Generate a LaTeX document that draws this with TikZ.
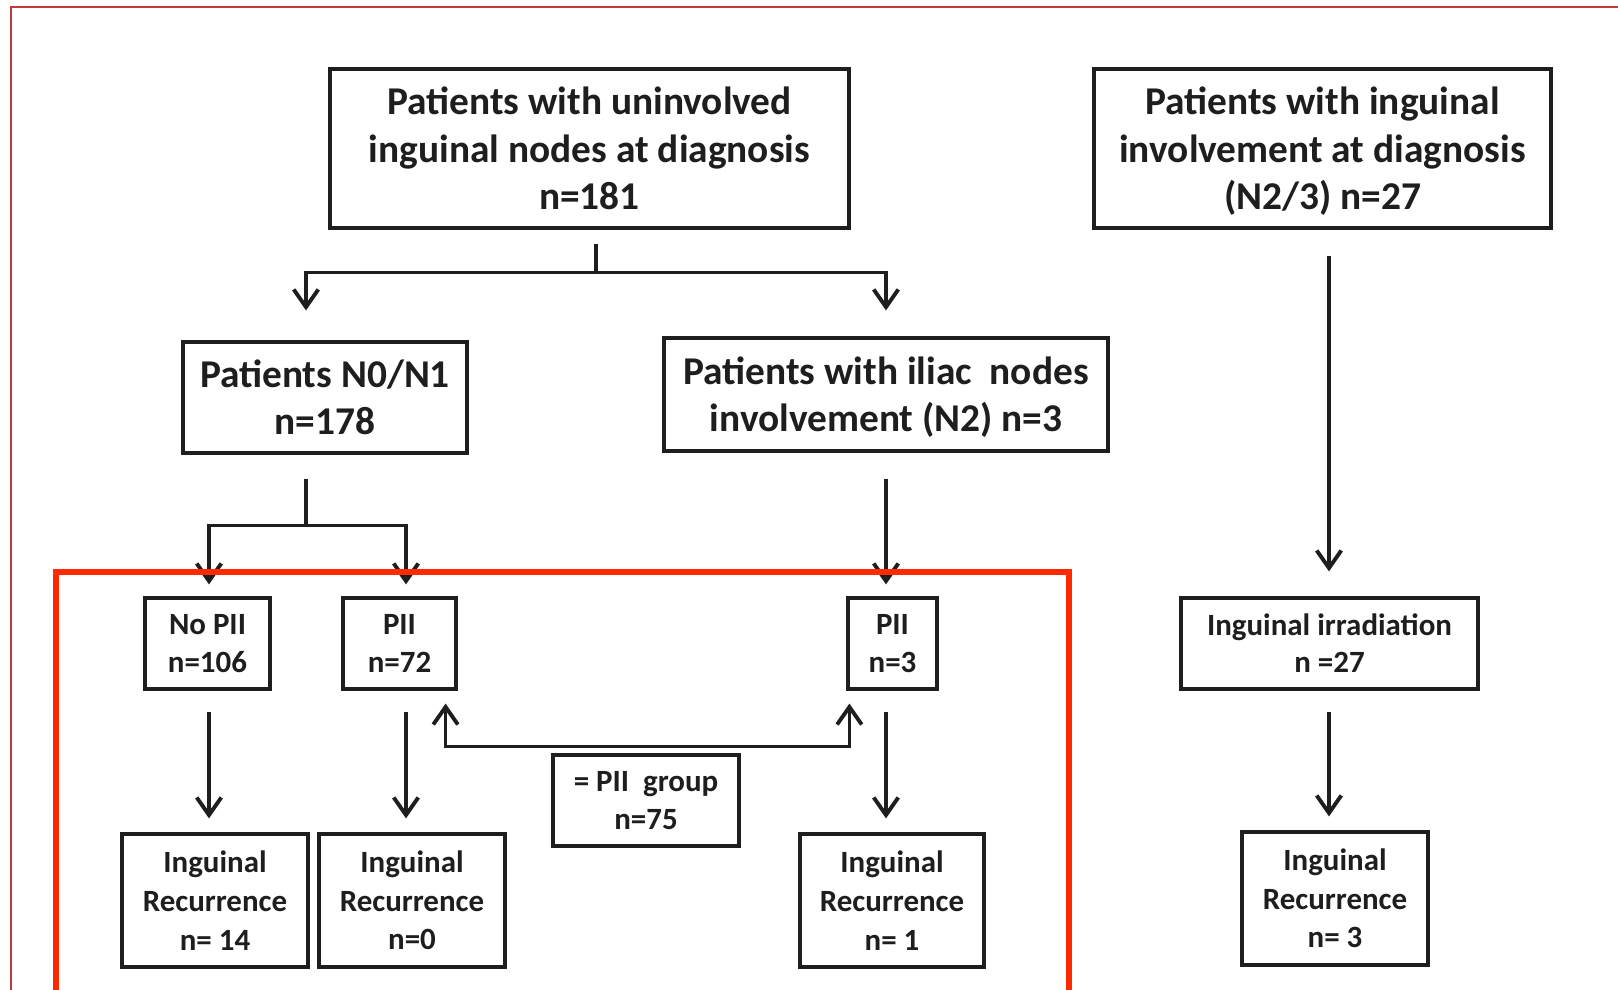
\documentclass[tikz,border=0pt]{standalone}
\usepackage{fontspec}
\setmainfont{Carlito}
\usetikzlibrary{arrows.meta,calc,positioning}

\definecolor{ink}{HTML}{1E1E1E}
\definecolor{markred}{HTML}{FF2A00}
\definecolor{edgered}{HTML}{C0393B}

\tikzset{
  box/.style={draw=ink, line width=0.9pt, rectangle, align=center, inner sep=0pt, text=ink,
    font=\fontsize{11.2}{13.5}\selectfont\bfseries},
  smallbox/.style={box, font=\fontsize{8.8}{10.6}\selectfont\bfseries},
  recbox/.style={box, font=\fontsize{8.8}{11}\selectfont\bfseries},
  line/.style={draw=ink, line width=0.9pt},
  arr/.style={line, -{Straight Barb[length=5pt,width=7pt,line width=1.1pt]}},
  arrboth/.style={line, {Straight Barb[length=5pt,width=7pt,line width=1.1pt]}-{Straight Barb[length=5pt,width=7pt,line width=1.1pt]}}
}

\begin{document}
\begin{tikzpicture}
	\useasboundingbox (0,0) rectangle (16.18,9.90);
	\fill[white] (0,0) rectangle (16.18,9.90);

	% page edge
	\draw[edgered, line width=0.6pt] (0.11,-0.2) |- (16.4,9.83);

	% top row
	\node[box, minimum width=5.19cm, minimum height=1.59cm] (uninv) at (5.895,8.415) {Patients with uninvolved\\inguinal nodes at diagnosis\\n=181};
	\node[box, minimum width=4.57cm, minimum height=1.59cm] (inginv) at (13.225,8.415) {Patients with inguinal\\involvement at diagnosis\\\smash{(N2/3)} n=27};

	% second row
	\node[box, minimum width=2.84cm, minimum height=1.11cm] (nzero) at (3.25,5.925) {Patients N0/N1\\n=178};
	\node[box, minimum width=4.44cm, minimum height=1.13cm] (iliac) at (8.86,5.955) {Patients with iliac~~nodes\\involvement \smash{(N2)} n=3};

	% treatment row
	\node[smallbox, minimum width=1.25cm, minimum height=0.91cm] (nopii) at (2.075,3.465) {No PII\\n=106};
	\node[smallbox, minimum width=1.13cm, minimum height=0.91cm] (piia) at (3.995,3.465) {PII\\n=72};
	\node[smallbox, minimum width=0.89cm, minimum height=0.91cm] (piib) at (8.925,3.465) {PII\\n=3};
	\node[smallbox, minimum width=2.97cm, minimum height=0.91cm] (irrad) at (13.295,3.465) {Inguinal irradiation\\n =27};
	\node[smallbox, minimum width=1.86cm, minimum height=0.91cm] (piigrp) at (6.46,1.895) {= PII~~group\\n=75};

	% outcome row
	\node[recbox, minimum width=1.86cm, minimum height=1.33cm] (rec14) at (2.15,0.895) {Inguinal\\Recurrence\\n= 14};
	\node[recbox, minimum width=1.86cm, minimum height=1.33cm] (rec0) at (4.12,0.895) {Inguinal\\Recurrence\\n=0};
	\node[recbox, minimum width=1.84cm, minimum height=1.33cm] (rec1) at (8.92,0.895) {Inguinal\\Recurrence\\n= 1};
	\node[recbox, minimum width=1.86cm, minimum height=1.33cm] (rec3) at (13.35,0.915) {Inguinal\\Recurrence\\n= 3};

	% forks
	\draw[line] ([xshift=0.065cm,yshift=-0.14cm]uninv.south) -- ++(0,-0.29) coordinate (forka);
	\draw[arr] (forka) -| ([xshift=-0.19cm,yshift=0.30cm]nzero.north);
	\draw[arr] (forka) -| ([yshift=0.26cm]iliac.north);

	\draw[line] ([xshift=-0.19cm,yshift=-0.24cm]nzero.south) -- ++(0,-0.47) coordinate (forkb);
	\draw[arr] (forkb) -| ([xshift=0.015cm,yshift=0.12cm]nopii.north);
	\draw[arr] (forkb) -| ([xshift=0.065cm,yshift=0.12cm]piia.north);

	\draw[arr] ([yshift=-0.26cm]iliac.south) -- ([yshift=0.12cm]iliac.south |- piib.north);
	\draw[arr] ([xshift=0.065cm,yshift=-0.26cm]inginv.south) -- ([xshift=0.065cm,yshift=0.25cm]inginv.south |- irrad.north);

	% down to recurrence
	\draw[arr] ([xshift=0.015cm,yshift=-0.21cm]nopii.south) -- ([xshift=0.015cm,yshift=0.14cm]nopii.south |- rec14.north);
	\draw[arr] ([xshift=0.065cm,yshift=-0.21cm]piia.south) -- ([xshift=0.065cm,yshift=0.14cm]piia.south |- rec0.north);
	\draw[arr] ([yshift=-0.21cm]iliac.south |- piib.south) -- ([yshift=0.14cm]iliac.south |- rec1.north);
	\draw[arr] ([xshift=0.065cm,yshift=-0.21cm]inginv.south |- irrad.south) -- ([xshift=0.065cm,yshift=0.14cm]inginv.south |- rec3.north);

	% bracket for PII group
	\draw[arrboth] ([xshift=-0.12cm,yshift=-0.13cm]piia.south east) -- ++(0,-0.43) -| ([xshift=0.03cm,yshift=-0.13cm]piib.south west);

	% highlight
	\draw[markred, line width=1.5pt] (0.56,-0.2) |- (10.69,4.18) -- (10.69,-0.2);
\end{tikzpicture}
\end{document}
